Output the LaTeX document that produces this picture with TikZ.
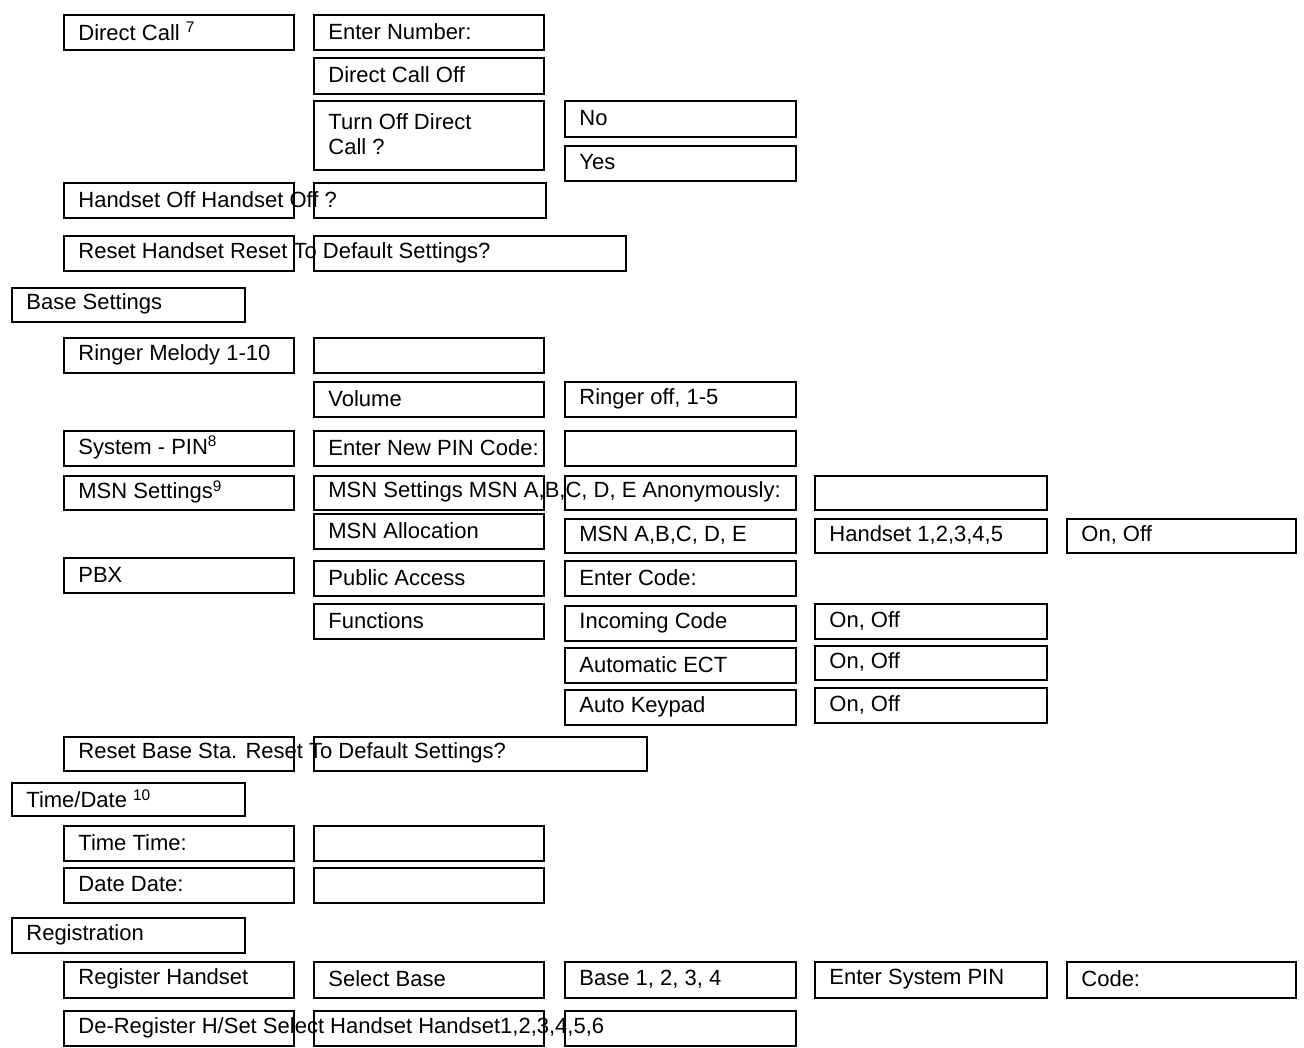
\documentclass[tikz,border=0pt]{standalone}
\usepackage{fontspec}
\setmainfont{Liberation Sans}
\begin{document}
\begin{tikzpicture}[x=1pt,y=-1pt,
  box/.style={draw=black,line width=1.6pt,inner sep=0pt,rectangle},
  txt/.style={anchor=west,inner sep=0pt,font=\fontsize{22}{25}\selectfont,align=left}]
\newcommand\bx[6]{%
  \node[box,minimum width=#4pt-#2pt,minimum height=#5pt-#3pt] (#1) at ({(#2+#4)/2},{(#3+#5)/2}) {};
  \node[txt] (#1t) at ([xshift=15pt,yshift=1pt]#1.west) {#6};}
\useasboundingbox (0,0) rectangle (1304,1048);
\fill[white] (0,0) rectangle (1304,1048);
\bx{a1}{64}{15}{294}{50}{Direct Call \textsuperscript{7}}
\bx{a2}{314}{15}{544}{50}{Enter Number:}
\bx{a3}{314}{58}{544}{94}{Direct Call Off}
\bx{a4}{314}{101}{544}{170}{Turn Off Direct\\Call ?}
\bx{a5}{565}{101}{796}{137}{No}
\bx{a6}{565}{146}{796}{181}{Yes}
\bx{b2}{314}{183}{546}{218}{}
\bx{b1}{64}{183}{294}{218}{Handset Off Handset Off ?}
\bx{c2}{314}{236}{626}{271}{}
\bx{c1}{64}{236}{294}{271}{Reset Handset Reset To Default Settings?}
\bx{d0}{12}{288}{245}{322}{Base Settings}
\bx{e1}{64}{338}{294}{373}{Ringer Melody 1-10}
\bx{e2}{314}{338}{544}{373}{}
\bx{f2}{314}{382}{544}{417}{Volume}
\bx{f3}{565}{382}{796}{417}{Ringer off, 1-5}
\bx{g3}{565}{431}{796}{466}{}
\bx{g1}{64}{431}{294}{466}{System - PIN\textsuperscript{8}}
\bx{g2}{314}{431}{544}{466}{Enter New PIN Code:}
\bx{h1}{64}{476}{294}{510}{MSN Settings\textsuperscript{9}}
\bx{h3}{565}{476}{796}{510}{}
\bx{h4}{815}{476}{1047}{510}{}
\bx{h2}{314}{476}{544}{510}{MSN Settings MSN A,B,C, D, E Anonymously:}
\bx{i2}{314}{514}{544}{549}{MSN Allocation}
\bx{i3}{565}{519}{796}{553}{MSN A,B,C, D, E}
\bx{i4}{815}{519}{1047}{553}{Handset 1,2,3,4,5}
\bx{i5}{1067}{519}{1296}{553}{On, Off}
\bx{j1}{64}{558}{294}{593}{PBX}
\bx{j2}{314}{561}{544}{596}{Public Access}
\bx{j3}{565}{561}{796}{596}{Enter Code:}
\bx{k2}{314}{604}{544}{639}{Functions}
\bx{k3}{565}{606}{796}{641}{Incoming Code}
\bx{k4}{815}{604}{1047}{639}{On, Off}
\bx{l3}{565}{648}{796}{683}{Automatic ECT}
\bx{l4}{815}{646}{1047}{680}{On, Off}
\bx{m3}{565}{690}{796}{725}{Auto Keypad}
\bx{m4}{815}{688}{1047}{723}{On, Off}
\bx{n2}{314}{737}{647}{771}{}
\bx{n1}{64}{737}{294}{771}{Reset Base Sta. Reset To Default Settings?}
\bx{o0}{12}{783}{245}{816}{Time/Date \textsuperscript{10}}
\bx{p1}{64}{826}{294}{861}{Time Time:}
\bx{p2}{314}{826}{544}{861}{}
\bx{q1}{64}{868}{294}{903}{Date Date:}
\bx{q2}{314}{868}{544}{903}{}
\bx{r0}{12}{918}{245}{953}{Registration}
\bx{s1}{64}{962}{294}{998}{Register Handset}
\bx{s2}{314}{962}{544}{998}{Select Base}
\bx{s3}{565}{962}{796}{998}{Base 1, 2, 3, 4}
\bx{s4}{815}{962}{1047}{998}{Enter System PIN}
\bx{s5}{1067}{962}{1296}{998}{Code:}
\bx{t2}{314}{1011}{544}{1046}{}
\bx{t3}{565}{1011}{796}{1046}{}
\bx{t1}{64}{1011}{294}{1046}{De-Register H/Set Select Handset Handset1,2,3,4,5,6}
\end{tikzpicture}
\end{document}
